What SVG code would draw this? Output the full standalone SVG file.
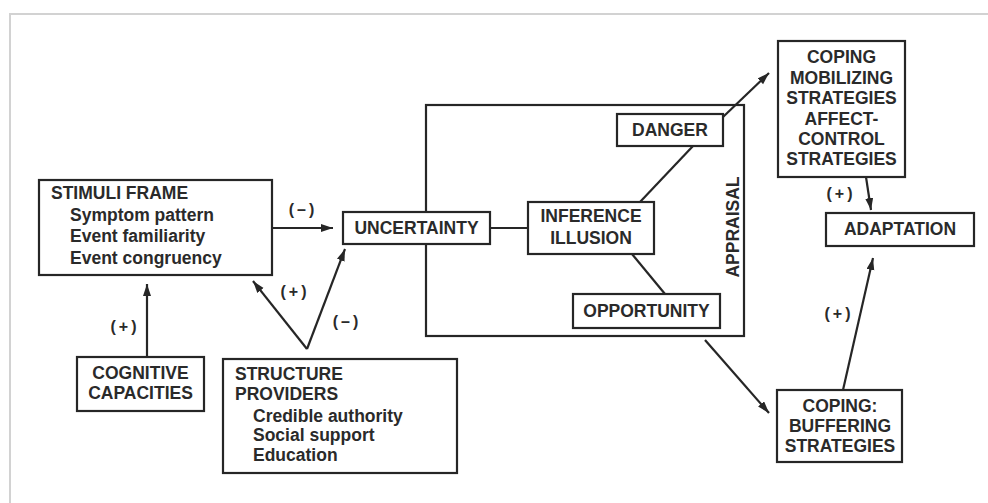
<svg xmlns="http://www.w3.org/2000/svg" width="988" height="503" viewBox="0 0 988 503">
<defs>
<style>
.box{fill:#fff;stroke:#262626;stroke-width:2.2}
.ln{stroke:#262626;stroke-width:2.2;fill:none}
.t{font-family:"Liberation Sans",Arial,sans-serif;font-weight:bold;font-size:17.5px;fill:#2a2a2a}
.c{text-anchor:middle}
.lb{font-family:"Liberation Sans",Arial,sans-serif;font-weight:bold;font-size:16px;fill:#2a2a2a;text-anchor:middle;letter-spacing:3px}
</style>
<marker id="ah" markerUnits="userSpaceOnUse" markerWidth="14" markerHeight="10" refX="12" refY="4" orient="auto">
<path d="M0,0 L12,4 L0,8 z" fill="#262626"/>
</marker>
</defs>
<rect x="0" y="0" width="988" height="503" fill="#fff"/>
<path d="M10,503 V14 H988" fill="none" stroke="#d2d2d2" stroke-width="2"/>

<g id="appraisal">
<rect class="box" x="426" y="105" width="318" height="231"/>
<text class="t c" transform="translate(739,227) rotate(-90)">APPRAISAL</text>
</g>

<g id="connectors">
<line class="ln" x1="272" y1="228" x2="333" y2="228" marker-end="url(#ah)"/>
<line class="ln" x1="147" y1="357" x2="147" y2="284" marker-end="url(#ah)"/>
<line class="ln" x1="307" y1="349" x2="253" y2="281" marker-end="url(#ah)"/>
<line class="ln" x1="307" y1="349" x2="345" y2="249" marker-end="url(#ah)"/>
<line class="ln" x1="490" y1="228" x2="528" y2="228"/>
<line class="ln" x1="640" y1="202" x2="693" y2="146"/>
<line class="ln" x1="632" y1="254" x2="665" y2="294"/>
<line class="ln" x1="723" y1="117" x2="769" y2="73" marker-end="url(#ah)"/>
<line class="ln" x1="866" y1="177" x2="871" y2="210" marker-end="url(#ah)"/>
<line class="ln" x1="705" y1="340" x2="769" y2="413" marker-end="url(#ah)"/>
<line class="ln" x1="843" y1="390" x2="873" y2="258" marker-end="url(#ah)"/>
<text class="lb" x="303" y="215">(–)</text>
<text class="lb" x="125" y="332">(+)</text>
<text class="lb" x="295" y="297">(+)</text>
<text class="lb" x="347" y="327">(–)</text>
<text class="lb" x="841" y="199">(+)</text>
<text class="lb" x="839" y="319">(+)</text>
</g>

<g id="stimuli">
<rect class="box" x="39" y="180" width="233" height="95"/>
<text class="t" x="51" y="199">STIMULI FRAME</text>
<text class="t" x="70" y="220.5">Symptom pattern</text>
<text class="t" x="70" y="242">Event familiarity</text>
<text class="t" x="70" y="263.5">Event congruency</text>
</g>

<g id="uncertainty">
<rect class="box" x="343" y="212" width="147" height="32"/>
<text class="t c" x="416.5" y="234">UNCERTAINTY</text>
</g>

<g id="danger">
<rect class="box" x="617" y="114" width="106" height="32"/>
<text class="t c" x="670" y="136">DANGER</text>
</g>

<g id="inference">
<rect class="box" x="528" y="202" width="126" height="52"/>
<text class="t c" x="591" y="222">INFERENCE</text>
<text class="t c" x="591" y="243.5">ILLUSION</text>
</g>

<g id="opportunity">
<rect class="box" x="573" y="294" width="147" height="34"/>
<text class="t c" x="646.5" y="317">OPPORTUNITY</text>
</g>

<g id="coping-mobilizing">
<rect class="box" x="778" y="41" width="127" height="136"/>
<text class="t c" x="841.5" y="63">COPING</text>
<text class="t c" x="841.5" y="84">MOBILIZING</text>
<text class="t c" x="841.5" y="104">STRATEGIES</text>
<text class="t c" x="841.5" y="124.5">AFFECT-</text>
<text class="t c" x="841.5" y="145">CONTROL</text>
<text class="t c" x="841.5" y="165">STRATEGIES</text>
</g>

<g id="adaptation">
<rect class="box" x="826" y="213" width="148" height="33"/>
<text class="t c" x="900" y="235">ADAPTATION</text>
</g>

<g id="coping-buffering">
<rect class="box" x="777" y="390" width="125" height="72"/>
<text class="t c" x="840" y="412">COPING:</text>
<text class="t c" x="840" y="432">BUFFERING</text>
<text class="t c" x="840" y="452">STRATEGIES</text>
</g>

<g id="cognitive">
<rect class="box" x="77" y="357" width="127" height="54"/>
<text class="t c" x="140.5" y="379">COGNITIVE</text>
<text class="t c" x="140.5" y="399">CAPACITIES</text>
</g>

<g id="structure">
<rect class="box" x="223" y="359" width="234" height="114"/>
<text class="t" x="235" y="380">STRUCTURE</text>
<text class="t" x="235" y="400">PROVIDERS</text>
<text class="t" x="253" y="421.5">Credible authority</text>
<text class="t" x="253" y="441">Social support</text>
<text class="t" x="253" y="460.5">Education</text>
</g>
</svg>
